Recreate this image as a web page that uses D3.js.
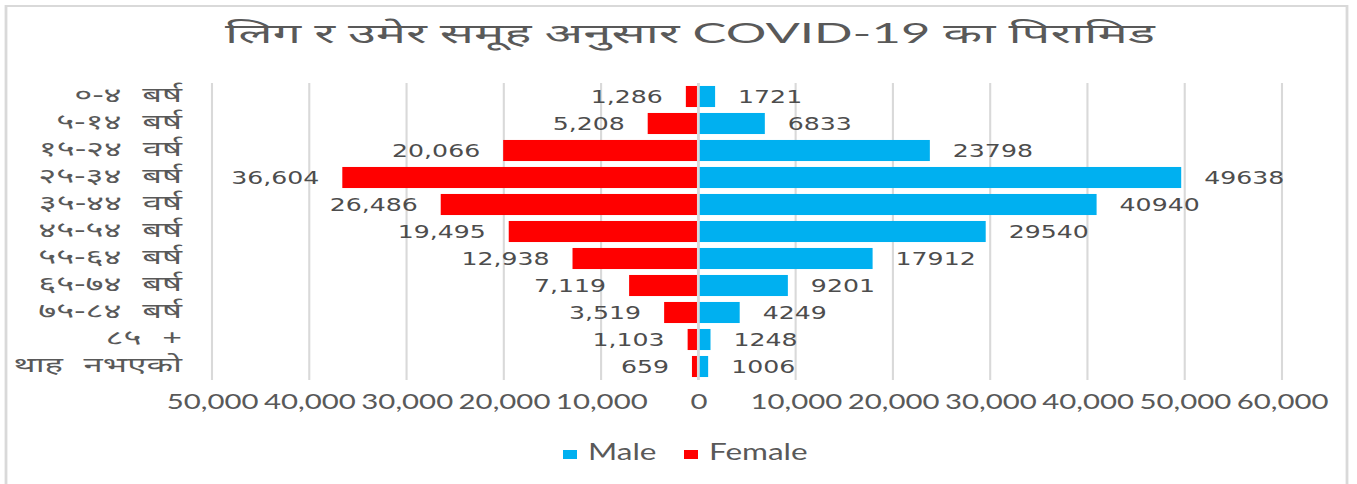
<!DOCTYPE html>
<html>
<head>
<meta charset="utf-8">
<script src="https://cdn.jsdelivr.net/npm/d3@7"></script>
<style>
  html, body { margin: 0; padding: 0; background: #fff; }
  svg { display: block; }
</style>
</head>
<body>
<svg id="chart"></svg>
<script>
// data
const ageGroups = ["०-४ बर्ष", "५-१४ बर्ष", "१५-२४ वर्ष", "२५-३४ बर्ष", "३५-४४ वर्ष", "४५-५४ बर्ष",
                   "५५-६४ बर्ष", "६५-७४ बर्ष", "७५-८४ बर्ष", "८५ +", "थाह नभएको"];
const maleValues = [1721, 6833, 23798, 49638, 40940, 29540, 17912, 9201, 4249, 1248, 1006];
const femaleValues = [1286, 5208, 20066, 36604, 26486, 19495, 12938, 7119, 3519, 1103, 659];
const xTicks = [-50000, -40000, -30000, -20000, -10000, 0, 10000, 20000, 30000, 40000, 50000, 60000];
const legendItems = ["Male", "Female"];

const title = "लिग र उमेर समूह अनुसार COVID-19 का पिरामिड";

const width = 1357;
const height = 484;
// the source picture is stretched sideways, so draw narrow and stretch the svg
const stretch = 1.4;
const vw = width / stretch;

const maleColor = "#00B0F0";
const femaleColor = "#FF0000";
const textColor = "#595959";
const gridColor = "#d9d9d9";

const svg = d3.select("#chart")
    .attr("width", width)
    .attr("height", height)
    .attr("viewBox", `0 0 ${vw} ${height}`)
    .attr("preserveAspectRatio", "none");

//chart frame
svg.append("rect")
    .attr("x", 6 / stretch)
    .attr("y", 6)
    .attr("width", (1347 - 6) / stretch)
    .attr("height", height)
    .attr("fill", "none")
    .attr("stroke", gridColor)
    .attr("stroke-width", 2);

svg.append("text")
    .attr("x", 225 / stretch)
    .attr("y", 43)
    .attr("textLength", (1155 - 225) / stretch)
    .attr("lengthAdjust", "spacingAndGlyphs")
    .attr("font-family", "Lato, 'Noto Sans', sans-serif")
    .attr("font-size", 27)
    .attr("fill", textColor)
    .text(title);

const xScale = d3.scaleLinear()
    .domain([-50000, 60000])
    .range([212 / stretch, 1282 / stretch]);

const yScale = d3.scaleBand()
    .domain(ageGroups)
    .range([83, 380])
    .paddingInner(0.22)
    .paddingOuter(0.11);

//vertical gridlines
svg.append("g")
    .selectAll("line")
    .data(xTicks)
    .enter()
    .append("line")
    .attr("x1", d => xScale(d))
    .attr("x2", d => xScale(d))
    .attr("y1", 83)
    .attr("y2", 380)
    .attr("stroke", gridColor)
    .attr("stroke-width", 1.5);

const rows = ageGroups.map((g, i) => ({ group: g, male: maleValues[i], female: femaleValues[i] }));

//female bars go left of zero
svg.append("g")
    .selectAll("rect")
    .data(rows)
    .enter()
    .append("rect")
    .attr("x", d => xScale(-d.female))
    .attr("y", d => yScale(d.group))
    .attr("width", d => xScale(0) - xScale(-d.female))
    .attr("height", yScale.bandwidth())
    .attr("fill", femaleColor);

svg.append("g")
    .selectAll("rect")
    .data(rows)
    .enter()
    .append("rect")
    .attr("x", xScale(0))
    .attr("y", d => yScale(d.group))
    .attr("width", d => xScale(d.male) - xScale(0))
    .attr("height", yScale.bandwidth())
    .attr("fill", maleColor);

//zero axis line
svg.append("line")
    .attr("x1", xScale(0))
    .attr("x2", xScale(0))
    .attr("y1", 83)
    .attr("y2", 380)
    .attr("stroke", gridColor)
    .attr("stroke-width", 2);

const gap = 23 / stretch;
const labelFont = "'DejaVu Sans', Verdana, sans-serif";

svg.append("g")
    .selectAll("text")
    .data(rows)
    .enter()
    .append("text")
    .attr("x", d => xScale(-d.female) - gap)
    .attr("y", d => yScale(d.group) + yScale.bandwidth() / 2 + 6.5)
    .attr("text-anchor", "end")
    .attr("font-family", labelFont)
    .attr("font-size", 18)
    .attr("fill", "#4d4d4d")
    .text(d => d3.format(",")(d.female));

svg.append("g")
    .selectAll("text")
    .data(rows)
    .enter()
    .append("text")
    .attr("x", d => xScale(d.male) + gap)
    .attr("y", d => yScale(d.group) + yScale.bandwidth() / 2 + 6.5)
    .attr("text-anchor", "start")
    .attr("font-family", labelFont)
    .attr("font-size", 18)
    .attr("fill", "#4d4d4d")
    .text(d => d.male);

//category labels on the left, a bit wider like the original font
svg.append("g")
    .attr("transform", `translate(${182 / stretch}, 0) scale(1.18, 1)`)
    .selectAll("text")
    .data(ageGroups)
    .enter()
    .append("text")
    .attr("x", 0)
    .attr("y", d => yScale(d) + yScale.bandwidth() / 2 + 6)
    .attr("text-anchor", "end")
    .attr("font-family", "'Noto Sans', sans-serif")
    .attr("font-size", 21)
    .attr("word-spacing", 7)
    .attr("fill", textColor)
    .text(d => d);

//x axis tick labels, shown without sign
const xAxis = d3.axisBottom(xScale)
    .tickValues(xTicks)
    .tickSize(0)
    .tickPadding(0)
    .tickFormat(d => d3.format(",")(Math.abs(d)));

svg.append("g")
    .attr("transform", "translate(0, 394)")
    .call(xAxis)
    .call(g => g.select(".domain").remove())
    .selectAll("text")
    .attr("font-family", "Lato, sans-serif")
    .attr("font-size", 21)
    .attr("fill", textColor);

//legend
const legend = svg.append("g")
    .selectAll("g")
    .data(legendItems)
    .enter()
    .append("g")
    .attr("transform", (d, i) => `translate(${(i === 0 ? 563 : 684) / stretch}, 0)`);

legend.append("rect")
    .attr("x", 0)
    .attr("y", 450)
    .attr("width", 14 / stretch)
    .attr("height", 9)
    .attr("fill", d => d === "Male" ? maleColor : femaleColor);

legend.append("text")
    .attr("x", 25 / stretch)
    .attr("y", 460)
    .attr("font-family", "Lato, sans-serif")
    .attr("font-size", 22.5)
    .attr("fill", textColor)
    .text(d => d);
</script>
</body>
</html>
